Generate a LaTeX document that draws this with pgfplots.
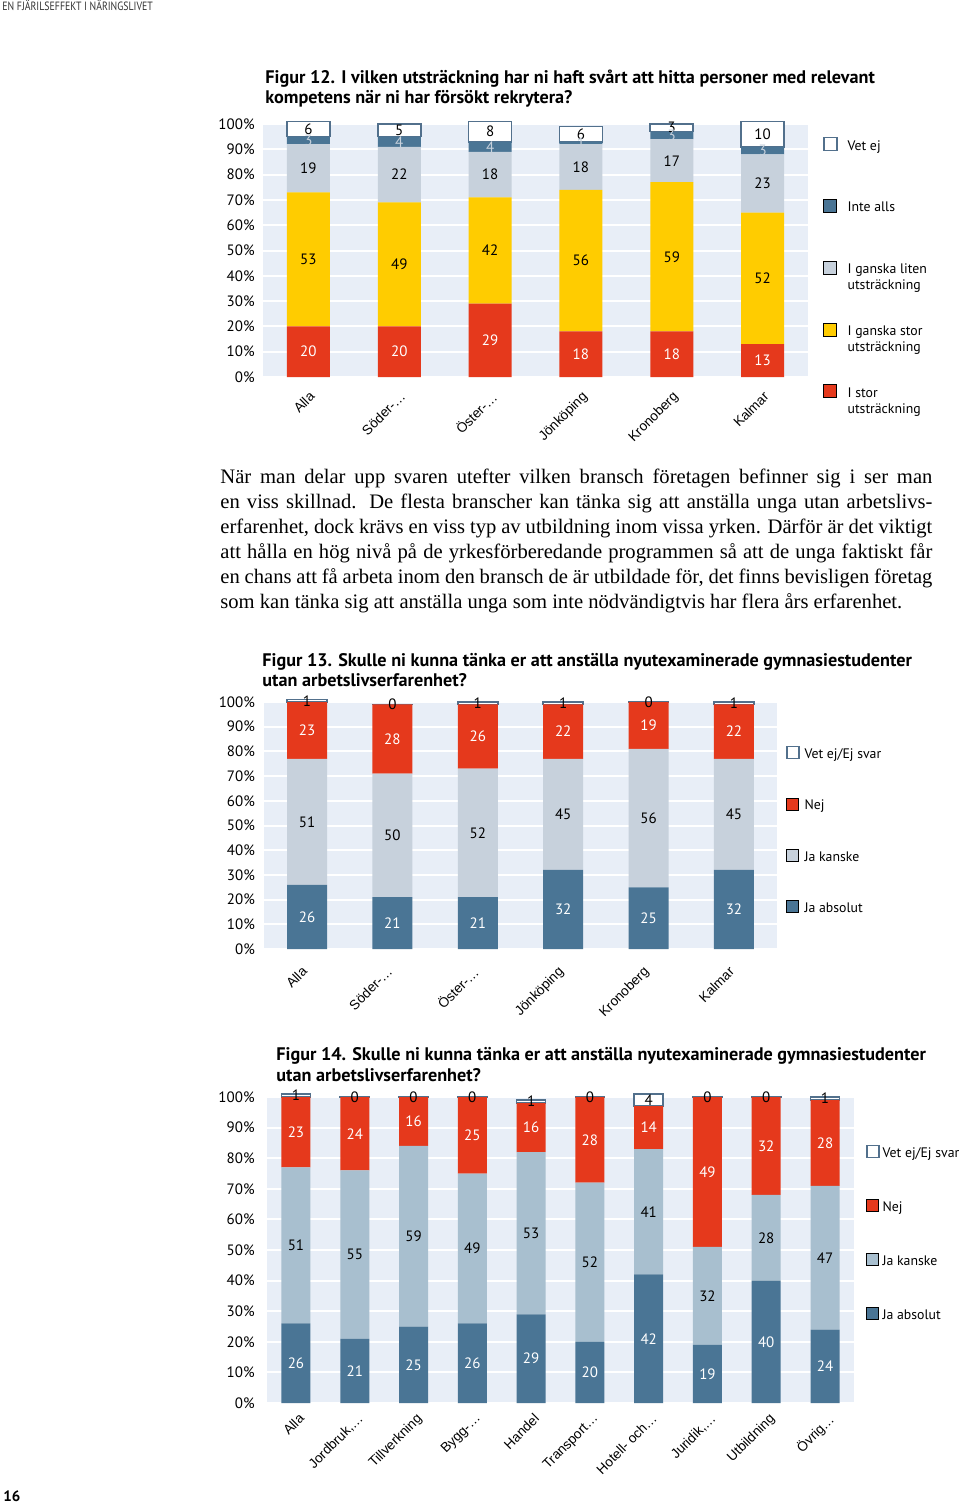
\documentclass[border=0pt]{standalone}
\usepackage{fontspec}
\usepackage{pgfplots}
\usepackage{pgfplotstable}
\pgfplotsset{compat=1.18}
\setmainfont{Liberation Serif}
\newfontfamily\din{PT Sans}
\newfontfamily\hdr[FakeStretch=0.82]{PT Sans}
\newfontfamily\arial{Liberation Sans}

\definecolor{cred}{HTML}{E5391C}
\definecolor{cyel}{HTML}{FFCC00}
\definecolor{cgray}{HTML}{C7D1DC}
\definecolor{cblue}{HTML}{4A7595}
\definecolor{clblue}{HTML}{A8BFCF}
\definecolor{cbg}{HTML}{E8EEF7}
\definecolor{cborder}{HTML}{52708C}
\definecolor{cbase}{HTML}{F2CB1E}

% "vet" holds the bar height (0.01 stands for a bar of 0), "vm" the value printed
\pgfplotstableread{
x stor gstor liten inte vet
0 20 53 19 3 6
1 20 49 22 4 5
2 29 42 18 4 8
3 18 56 18 1 6
4 18 59 17 3 3
5 13 52 23 3 10
}\dataA

\pgfplotstableread{
x abs kanske nej vet vm
0 26 51 23 1 1
1 21 50 28 0.01 0
2 21 52 26 1 1
3 32 45 22 1 1
4 25 56 19 0.01 0
5 32 45 22 1 1
}\dataB

\pgfplotstableread{
x abs kanske nej vet vm
0 26 51 23 1 1
1 21 55 24 0.01 0
2 25 59 16 0.01 0
3 26 49 25 0.01 0
4 29 53 16 1 1
5 20 52 28 0.01 0
6 42 41 14 4 4
7 19 32 49 0.01 0
8 40 28 32 0.01 0
9 24 47 28 1 1
}\dataC

\newcommand{\lgd}[1]{\raisebox{0pt}[5.6pt][2.4pt]{\parbox[t]{75pt}{\strut #1}}}

\pgfplotsset{
  stk/.style={
    ybar stacked, scale only axis, clip=false,
    anchor=south west,
    ymin=0, ymax=100, enlarge x limits=false, enlarge y limits=false,
    axis background/.style={fill=cbg},
    axis line style={draw=none},
    ytick={0,10,...,100},
    yticklabels={0\%,10\%,20\%,30\%,40\%,50\%,60\%,70\%,80\%,90\%,100\%},
    yticklabel style={font=\din\fontsize{7.5}{9}\selectfont, anchor=east, inner sep=0pt},
    ymajorgrids, major grid style={white, line width=1pt},
    major tick length=0pt,
    extra y ticks={0}, extra y tick labels={},
    extra y tick style={grid style={cbase, line width=1.5pt}},
    xticklabel style={font=\arial\fontsize{6.8}{7}\selectfont, inner sep=0pt},
    point meta=explicit,
    nodes near coords={\pgfmathprintnumber[assume math mode=true]{\pgfplotspointmeta}},
    every node near coord/.append style={font=\din\fontsize{7.5}{9}\selectfont, anchor=center, inner sep=0pt},
    reverse legend,
    legend cell align=left,
    legend style={draw=none, fill=none, inner sep=0pt, outer sep=0pt, anchor=north west,
      font=\din\fontsize{6.9}{8}\selectfont, nodes={inner sep=0pt}, column sep=0pt},
  },
  vet/.style={fill=white, draw=cborder, line width=0.8pt},
}

\begin{document}
\begin{tikzpicture}
\path[use as bounding box] (0pt,0pt) rectangle (480pt,-751.5pt);

% header and page number
\node[anchor=base west, inner sep=0pt, font=\hdr\fontsize{6}{6}\selectfont, text=black!80] at (1pt,-5.2pt) {EN FJÄRILSEFFEKT I NÄRINGSLIVET};
\node[anchor=base west, inner sep=0pt, font=\din\bfseries\fontsize{7.5}{8}\selectfont] at (1.5pt,-750.5pt) {16};

% ---------------- Figure 12
\node[anchor=base west, inner sep=0pt, font=\din\bfseries\fontsize{9.1}{10}\selectfont] at (132.5pt,-42pt) {Figur 12. I vilken utsträckning har ni haft svårt att hitta personer med relevant};
\node[anchor=base west, inner sep=0pt, font=\din\bfseries\fontsize{9.1}{10}\selectfont] at (132.5pt,-52pt) {kompetens när ni har försökt rekrytera?};

\begin{axis}[stk, at={(131.5pt,-188.5pt)},
  width=272.5pt, height=126.5pt, bar width=21.5pt,
  xmin=-0.5, xmax=5.5,
  xtick={0,...,5},
  xticklabels={Alla,Söder-…,Öster-…,Jönköping,Kronoberg,Kalmar},
  xticklabel style={xshift=0pt, yshift=-6.5pt, rotate=45, anchor=north east},
  yticklabel style={xshift=-4pt},
  legend image code/.code={\draw[#1] (0pt,-2.35pt) rectangle (6.5pt,4.15pt); \path (11.5pt,0pt);},
  legend style={at={(1.0275,0.9494)}, row sep=23pt},
]
\addplot[fill=cred, draw=none, every node near coord/.append style={text=white}] table[x=x, y=stor, meta=stor] {\dataA};
\addlegendentry{\lgd{I stor\\utsträckning}}
\addplot[fill=cyel, draw=none, every node near coord/.append style={text=black}] table[x=x, y=gstor, meta=gstor] {\dataA};
\addlegendentry{\lgd{I ganska stor\\utsträckning}}
\addplot[fill=cgray, draw=none, every node near coord/.append style={text=black}] table[x=x, y=liten, meta=liten] {\dataA};
\addlegendentry{\lgd{I ganska liten\\utsträckning}}
\addplot[fill=cblue, draw=none, every node near coord/.append style={text=cgray}] table[x=x, y=inte, meta=inte] {\dataA};
\addlegendentry{\lgd{Inte alls}}
\addplot[vet, every node near coord/.append style={text=black}] table[x=x, y=vet, meta=vet] {\dataA};
\addlegendentry{\lgd{Vet ej}}
\end{axis}

% ---------------- Paragraph
\node[anchor=base west, inner sep=0pt] at (110pt,-241.5pt) {\parbox[t]{356pt}{\fontsize{10.3}{12.5}\selectfont
\hbox to 356pt{När man delar upp svaren utefter vilken bransch företagen befinner sig i ser man}
\hbox to 356pt{en viss skillnad. De flesta branscher kan tänka sig att anställa unga utan arbetslivs-}
\hbox to 356pt{erfarenhet, dock krävs en viss typ av utbildning inom vissa yrken. Därför är det viktigt}
\hbox to 356pt{att hålla en hög nivå på de yrkesförberedande programmen så att de unga faktiskt får}
\hbox to 356pt{en chans att få arbeta inom den bransch de är utbildade för, det finns bevisligen företag}
\hbox{som kan tänka sig att anställa unga som inte nödvändigtvis har flera års erfarenhet.}}};

% ---------------- Figure 13
\node[anchor=base west, inner sep=0pt, font=\din\bfseries\fontsize{9.1}{10}\selectfont] at (131pt,-333pt) {Figur 13. Skulle ni kunna tänka er att anställa nyutexaminerade gymnasiestudenter};
\node[anchor=base west, inner sep=0pt, font=\din\bfseries\fontsize{9.1}{10}\selectfont] at (131pt,-343pt) {utan arbetslivserfarenhet?};

\begin{axis}[stk, at={(132.15pt,-474.5pt)},
  width=256.2pt, height=123.5pt, bar width=20pt,
  xmin=-0.5, xmax=5.5,
  xtick={0,...,5},
  xticklabels={Alla,Söder-…,Öster-…,Jönköping,Kronoberg,Kalmar},
  xticklabel style={xshift=-3pt, yshift=-8pt, rotate=45, anchor=north east},
  yticklabel style={xshift=-4.5pt},
  legend image code/.code={\draw[#1] (0pt,-2.1pt) rectangle (6pt,3.9pt); \path (8.5pt,0pt);},
  legend style={at={(1.018,0.8227)}, row sep=18pt},
]
\addplot[fill=cblue, draw=none, every node near coord/.append style={text=white}] table[x=x, y=abs, meta=abs] {\dataB};
\addlegendentry{\lgd{Ja absolut}}
\addplot[fill=cgray, draw=none, every node near coord/.append style={text=black}] table[x=x, y=kanske, meta=kanske] {\dataB};
\addlegendentry{\lgd{Ja kanske}}
\addplot[fill=cred, draw=none, every node near coord/.append style={text=white}] table[x=x, y=nej, meta=nej] {\dataB};
\addlegendentry{\lgd{Nej}}
\addplot[vet, every node near coord/.append style={text=black}] table[x=x, y=vet, meta=vm] {\dataB};
\addlegendentry{\lgd{Vet ej/Ej svar}}
\end{axis}

% ---------------- Figure 14
\node[anchor=base west, inner sep=0pt, font=\din\bfseries\fontsize{9.1}{10}\selectfont] at (138pt,-530pt) {Figur 14. Skulle ni kunna tänka er att anställa nyutexaminerade gymnasiestudenter};
\node[anchor=base west, inner sep=0pt, font=\din\bfseries\fontsize{9.1}{10}\selectfont] at (138pt,-540.5pt) {utan arbetslivserfarenhet?};

\begin{axis}[stk, at={(133.3pt,-701.5pt)},
  width=293.9pt, height=153pt, bar width=14.5pt,
  xmin=-0.5, xmax=9.5,
  xtick={0,...,9},
  xticklabels={Alla,{Jordbruk,…},Tillverkning,Bygg-…,Handel,Transport…,Hotell- och…,{Juridik,…},Utbildning,Övrig…},
  xticklabel style={xshift=1pt, yshift=-4.5pt, rotate=45, anchor=north east},
  yticklabel style={xshift=-5.8pt},
  legend image code/.code={\draw[#1] (0pt,-2.1pt) rectangle (6pt,3.9pt); \path (7.5pt,0pt);},
  legend style={at={(1.0197,0.8438)}, row sep=19.35pt},
]
\addplot[fill=cblue, draw=none, every node near coord/.append style={text=white}] table[x=x, y=abs, meta=abs] {\dataC};
\addlegendentry{\lgd{Ja absolut}}
\addplot[fill=clblue, draw=none, every node near coord/.append style={text=black}] table[x=x, y=kanske, meta=kanske] {\dataC};
\addlegendentry{\lgd{Ja kanske}}
\addplot[fill=cred, draw=none, every node near coord/.append style={text=white}] table[x=x, y=nej, meta=nej] {\dataC};
\addlegendentry{\lgd{Nej}}
\addplot[vet, every node near coord/.append style={text=black}] table[x=x, y=vet, meta=vm] {\dataC};
\addlegendentry{\lgd{Vet ej/Ej svar}}
\end{axis}
\end{tikzpicture}
\end{document}
